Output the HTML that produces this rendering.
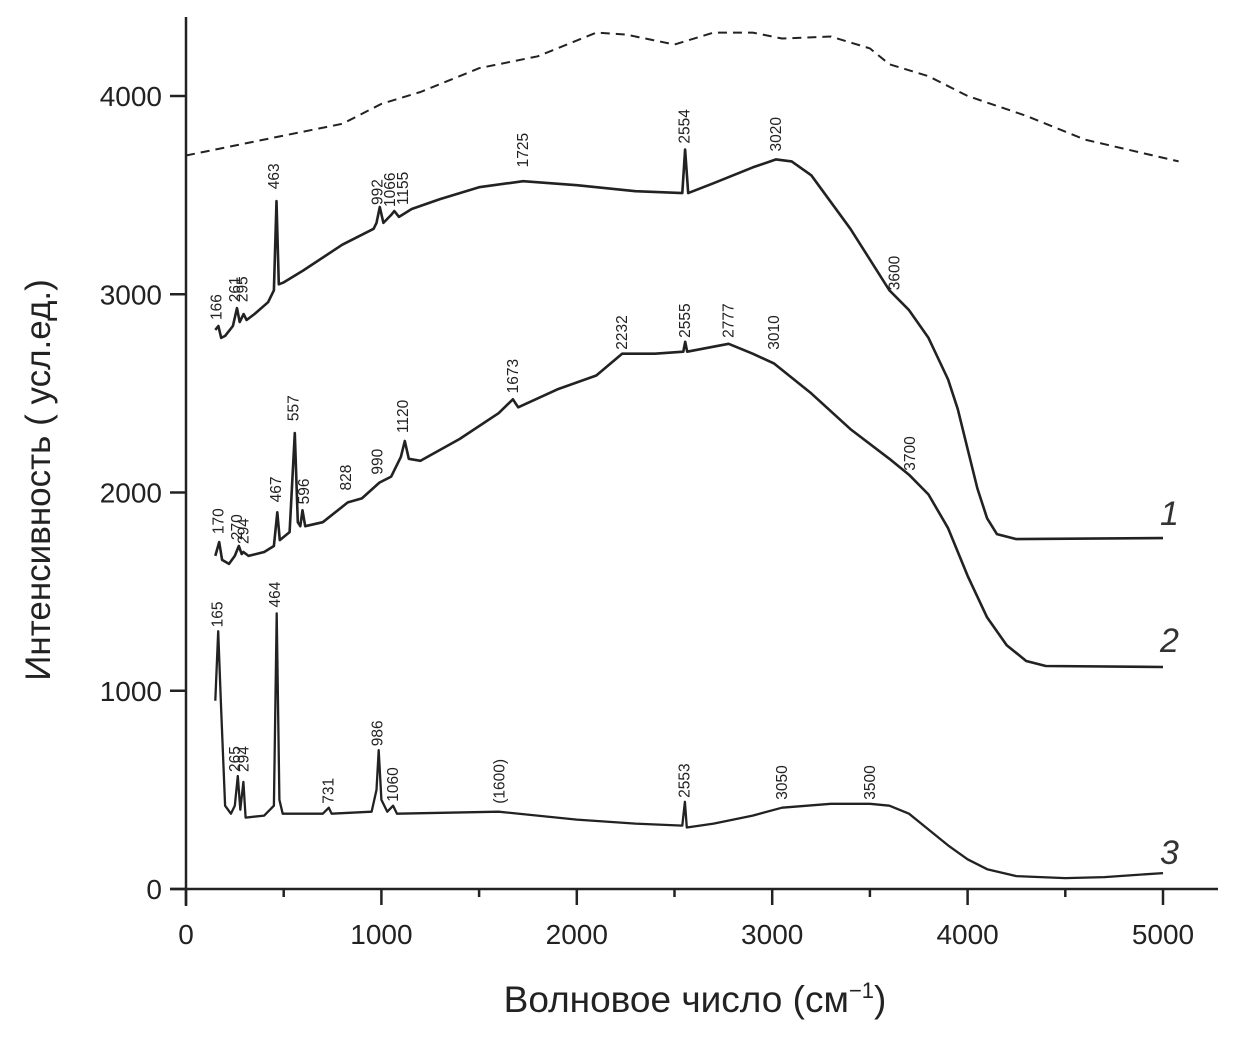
<!DOCTYPE html>
<html><head><meta charset="utf-8"><style>
html,body{margin:0;padding:0;background:#fff;}
svg{display:block;font-family:"Liberation Sans",sans-serif;}
</style></head><body>
<svg id="chart" width="1260" height="1041" viewBox="0 0 1260 1041">
<g id="axes"></g>
<g id="series"></g>
<g id="labels"></g>
<text x="50" y="480" transform="rotate(-90 50 480)" text-anchor="middle" font-size="35" fill="#222">Интенсивность  ( усл.ед.)</text>
<text x="695" y="1012" text-anchor="middle" font-size="37" fill="#222">Волновое число  (см<tspan dy="-14" font-size="22">−1</tspan><tspan dy="14">)</tspan></text>
<text x="1160" y="525" font-size="34" font-style="italic" fill="#333">1</text>
<text x="1160" y="652" font-size="34" font-style="italic" fill="#333">2</text>
<text x="1160" y="864" font-size="34" font-style="italic" fill="#333">3</text>
</svg>
<script>
const xTicks=[0,1000,2000,3000,4000,5000];
const xMinor=[500,1500,2500,3500,4500];
const yTicks=[0,1000,2000,3000,4000];
const s1x=[150,166,180,200,240,261,275,295,310,350,420,450,463,475,500,600,800,960,975,992,1010,1050,1066,1090,1155,1300,1500,1725,2000,2300,2540,2554,2570,2700,2900,3020,3100,3200,3400,3600,3700,3800,3900,3950,4000,4050,4100,4150,4250,5000];
const s1y=[2820,2840,2780,2790,2840,2930,2860,2900,2870,2900,2960,3020,3470,3050,3060,3120,3250,3330,3360,3440,3360,3400,3420,3390,3430,3480,3540,3570,3550,3520,3510,3730,3510,3560,3640,3680,3670,3600,3330,3020,2920,2780,2570,2420,2220,2020,1870,1790,1765,1770];
const s2x=[150,170,185,220,250,270,285,294,320,400,450,467,480,530,557,572,585,596,610,700,828,900,990,1050,1100,1120,1140,1200,1400,1600,1673,1700,1900,2100,2232,2400,2545,2555,2565,2777,2900,3010,3200,3400,3600,3700,3800,3900,4000,4100,4200,4300,4400,5000];
const s2y=[1680,1750,1660,1640,1680,1730,1690,1700,1680,1700,1730,1900,1760,1800,2300,1850,1830,1910,1830,1850,1950,1970,2050,2080,2180,2260,2170,2160,2270,2400,2470,2430,2520,2590,2700,2700,2710,2760,2710,2750,2700,2650,2500,2320,2170,2090,1990,1820,1580,1370,1230,1150,1125,1120];
const s3x=[150,165,180,200,230,250,265,278,294,305,400,450,464,478,495,700,731,745,950,975,986,1000,1030,1060,1080,1600,2000,2300,2540,2553,2563,2700,2900,3050,3300,3500,3600,3700,3800,3900,4000,4100,4250,4500,4700,5000];
const s3y=[950,1300,900,420,380,420,570,400,540,360,370,420,1390,450,380,380,410,380,390,500,700,450,390,420,380,390,350,330,320,440,310,330,370,410,430,430,420,380,300,220,150,100,65,55,60,80];
const s4x=[0,500,800,1000,1200,1500,1800,2100,2250,2500,2700,2900,3050,3300,3500,3600,3800,4000,4300,4600,5080];
const s4y=[3700,3800,3860,3960,4020,4140,4200,4320,4310,4260,4320,4320,4290,4300,4240,4160,4100,4000,3900,3780,3670];
const labText=["166","261","295","463","992","1066","1155","1725","2554","3020","3600","170","270","294","467","557","596","828","990","1120","1673","2232","2555","2777","3010","3700","165","265","294","464","731","986","1060","(1600)","2553","3050","3500"];
const labX=[150,245,285,445,975,1040,1105,1720,2545,3015,3620,160,255,290,455,545,600,815,975,1105,1668,2225,2548,2770,3005,3700,155,245,290,450,725,975,1055,1600,2545,3045,3495];
const labY=[2870,2960,2960,3530,3450,3440,3450,3640,3760,3720,3020,1790,1760,1740,1950,2360,1940,2010,2090,2300,2500,2720,2780,2780,2720,2110,1320,590,590,1420,430,720,440,430,460,450,450];
const X=v=>186+v*0.1954, Y=v=>889-v*0.19825;
const NS='http://www.w3.org/2000/svg';
function mk(tag,attrs,parent){const e=document.createElementNS(NS,tag);for(const k in attrs)e.setAttribute(k,attrs[k]);parent.appendChild(e);return e;}
const axes=document.getElementById('axes');
let a=mk('line',{x1:170,y1:Y(0),x2:1218,y2:Y(0),stroke:'#222','stroke-width':2.5},axes);


a=mk('line',{x1:X(0),y1:17,x2:X(0),y2:906,stroke:'#222','stroke-width':2.5},axes);


xTicks.forEach(t=>{
 const l=mk('line',{x1:X(t),y1:Y(0),x2:X(t),y2:Y(0)+16,stroke:'#222','stroke-width':2.5},axes);
 
 
 const tx=mk('text',{x:X(t),y:Y(0)+55,'text-anchor':'middle','font-size':28,fill:'#222'},axes);tx.textContent=t;
 
 
});
xMinor.forEach(t=>{
 const m=mk('line',{x1:X(t),y1:Y(0),x2:X(t),y2:Y(0)+8,stroke:'#222','stroke-width':2.5},axes);
 
 
});
yTicks.forEach(t=>{
 const l=mk('line',{x1:X(0)-16,y1:Y(t),x2:X(0),y2:Y(t),stroke:'#222','stroke-width':2.5},axes);
 
 
 const tx=mk('text',{x:X(0)-24,y:Y(t)+10,'text-anchor':'end','font-size':28,fill:'#222'},axes);tx.textContent=t;
 
 
});
const ser=document.getElementById('series');
function drawLine(xs,ys,name,dash,w){
 const d=xs.map((v,i)=>(i?'L':'M')+X(v).toFixed(1)+' '+Y(ys[i]).toFixed(1)).join(' ');
 const p=mk('path',{d:d,fill:'none',stroke:'#222','stroke-width':w,'stroke-linejoin':'round'},ser);
 if(dash)p.setAttribute('stroke-dasharray',dash);
 
 
}
drawLine(s1x,s1y,'spectrum-1',null,2.6);
drawLine(s2x,s2y,'spectrum-2',null,2.6);
drawLine(s3x,s3y,'spectrum-3',null,2.3);
drawLine(s4x,s4y,'dashed-envelope','9 6',2);
const lab=document.getElementById('labels');
labText.forEach((t,i)=>{
 const x=X(labX[i]),y=Y(labY[i]);
 const tx=mk('text',{x:x+6,y:y,transform:`rotate(-90 ${x+6} ${y})`,'font-size':15.5,fill:'#222'},lab);
 tx.textContent=t;
 
 
});
</script>
</body></html>
